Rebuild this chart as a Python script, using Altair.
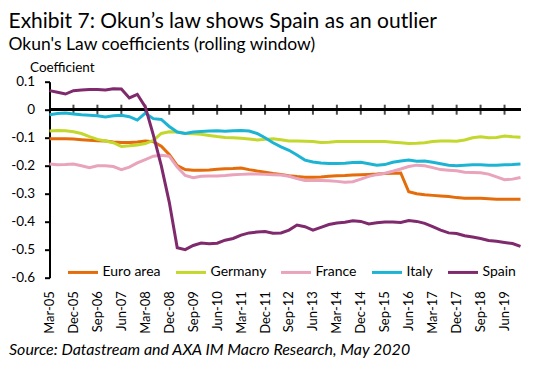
import json
import altair as alt
import pandas as pd

months = ["Mar", "Jun", "Sep", "Dec"]
quarters = [f"{m}-{y:02d}" for y in range(5, 20) for m in months]  # Mar-05 .. Dec-19

series_names = ["Euro area", "Germany", "France", "Italy", "Spain"]
series_colors = ["#E46C0A", "#C3D72C", "#E9A3BA", "#1DB4D4", "#7E2A6C"]

euro_area = [-0.104, -0.104, -0.104, -0.105, -0.107, -0.109, -0.111, -0.112, -0.115, -0.117,
             -0.117, -0.115, -0.112, -0.114, -0.130, -0.160, -0.200, -0.214, -0.216, -0.216,
             -0.215, -0.213, -0.211, -0.210, -0.208, -0.214, -0.219, -0.223, -0.228, -0.231,
             -0.236, -0.239, -0.241, -0.241, -0.240, -0.238, -0.236, -0.235, -0.233, -0.232,
             -0.231, -0.230, -0.228, -0.227, -0.226, -0.293, -0.300, -0.304, -0.306, -0.308,
             -0.310, -0.314, -0.316, -0.316, -0.316, -0.318, -0.320, -0.320, -0.320, -0.320]
germany = [-0.076, -0.074, -0.075, -0.079, -0.085, -0.096, -0.106, -0.112, -0.118, -0.131,
           -0.129, -0.126, -0.121, -0.110, -0.085, -0.079, -0.080, -0.085, -0.086, -0.088,
           -0.092, -0.096, -0.099, -0.100, -0.102, -0.105, -0.108, -0.106, -0.104, -0.107,
           -0.112, -0.112, -0.113, -0.114, -0.117, -0.116, -0.114, -0.114, -0.114, -0.114,
           -0.114, -0.114, -0.114, -0.116, -0.118, -0.121, -0.120, -0.118, -0.114, -0.112,
           -0.112, -0.113, -0.108, -0.100, -0.097, -0.100, -0.099, -0.094, -0.097, -0.098]
france = [-0.194, -0.197, -0.196, -0.194, -0.200, -0.207, -0.200, -0.200, -0.203, -0.214,
          -0.205, -0.190, -0.178, -0.166, -0.163, -0.166, -0.205, -0.235, -0.243, -0.238,
          -0.237, -0.237, -0.235, -0.232, -0.231, -0.230, -0.230, -0.231, -0.232, -0.233,
          -0.238, -0.246, -0.253, -0.253, -0.253, -0.254, -0.256, -0.259, -0.257, -0.248,
          -0.238, -0.232, -0.227, -0.220, -0.212, -0.203, -0.198, -0.200, -0.207, -0.214,
          -0.216, -0.218, -0.223, -0.224, -0.225, -0.230, -0.240, -0.250, -0.248, -0.242]
italy = [-0.018, -0.014, -0.012, -0.015, -0.018, -0.020, -0.022, -0.026, -0.022, -0.020,
         -0.025, -0.037, -0.012, -0.032, -0.035, -0.060, -0.080, -0.085, -0.080, -0.078,
         -0.076, -0.075, -0.077, -0.075, -0.074, -0.076, -0.085, -0.100, -0.118, -0.133,
         -0.145, -0.162, -0.180, -0.187, -0.190, -0.192, -0.192, -0.191, -0.189, -0.188,
         -0.193, -0.198, -0.196, -0.188, -0.183, -0.180, -0.184, -0.183, -0.188, -0.193,
         -0.198, -0.200, -0.198, -0.197, -0.197, -0.198, -0.198, -0.197, -0.196, -0.194]
spain = [0.068, 0.062, 0.056, 0.068, 0.070, 0.072, 0.072, 0.070, 0.075, 0.074,
         0.042, 0.055, 0.010, -0.090, -0.200, -0.330, -0.493, -0.500, -0.485, -0.476,
         -0.479, -0.477, -0.466, -0.460, -0.448, -0.440, -0.437, -0.435, -0.441, -0.440,
         -0.430, -0.412, -0.418, -0.430, -0.420, -0.410, -0.405, -0.402, -0.397, -0.399,
         -0.408, -0.404, -0.401, -0.401, -0.403, -0.396, -0.399, -0.406, -0.418, -0.430,
         -0.440, -0.442, -0.450, -0.455, -0.460, -0.467, -0.470, -0.474, -0.478, -0.488]

y_ticks = [-0.6, -0.5, -0.4, -0.3, -0.2, -0.1, 0.0, 0.1]
x_label_idx = list(range(0, len(quarters), 3))
zero_tick_idx = x_label_idx[1:]

rows = []
for name, vals in zip(series_names, [euro_area, germany, france, italy, spain]):
    for i, v in enumerate(vals):
        rows.append({"idx": i, "quarter": quarters[i], "series": name, "value": v})
df = pd.DataFrame(rows)
ticks_df = pd.DataFrame({"idx": zero_tick_idx})

FONT = "Lato"
label_expr = json.dumps(quarters) + "[datum.value]"

x_scale = alt.Scale(domain=[0, len(quarters) - 1], nice=False, zero=False)
y_scale = alt.Scale(domain=[-0.6, 0.1], nice=False)

x_axis = alt.Axis(values=x_label_idx, labelExpr=label_expr, labelAngle=-90,
                  labelOverlap=False, labelFlush=False, labelBound=False,
                  domain=False, ticks=False, grid=False, labelPadding=13,
                  labelFont=FONT, labelFontSize=13, labelColor="#000000",
                  title="Source: Datastream and AXA IM Macro Research, May 2020",
                  titleFont=FONT, titleFontSize=16, titleFontStyle="italic",
                  titleFontWeight="normal", titleColor="#000000",
                  titleAnchor="start", titleAlign="left", titleBaseline="alphabetic",
                  titleX=-41, titleY=77)
y_axis = alt.Axis(values=y_ticks,
                  labelExpr="datum.value == 0 ? '0' : (datum.value < 0 ? '-' : '') + format(abs(datum.value), '.1f')",
                  labelOverlap=False, labelFlush=False, labelBound=False,
                  grid=False, domainColor="#000000", domainWidth=2,
                  tickColor="#000000", tickWidth=2, tickSize=5, labelPadding=10,
                  labelFont=FONT, labelFontSize=13.5, labelColor="#000000",
                  title="Coefficient", titleAngle=0, titleFont=FONT, titleFontSize=13.5,
                  titleFontWeight="normal", titleColor="#000000",
                  titleAlign="left", titleBaseline="alphabetic",
                  titleX=-20, titleY=-10)

zero_line = alt.Chart(ticks_df).mark_rule(color="#000000", strokeWidth=2).encode(
    y=alt.Y(datum=0, type="quantitative", scale=y_scale, axis=y_axis)
)

zero_ticks = alt.Chart(ticks_df).mark_tick(color="#000000", orient="vertical",
                                           size=10, thickness=2).encode(
    x=alt.X("idx:Q", scale=x_scale, axis=x_axis),
    y=alt.Y(datum=0, type="quantitative", scale=y_scale, axis=y_axis),
)

lines = alt.Chart(df).mark_line(strokeWidth=3).encode(
    x=alt.X("idx:Q", scale=x_scale, axis=x_axis),
    y=alt.Y("value:Q", scale=y_scale, axis=y_axis),
    color=alt.Color("series:N",
                    scale=alt.Scale(domain=series_names, range=series_colors),
                    legend=alt.Legend(orient="none", direction="horizontal",
                                      legendX=17, legendY=174, title=None,
                                      symbolType="stroke", symbolStrokeWidth=3,
                                      symbolSize=900, labelFont=FONT, labelFontSize=14,
                                      labelColor="#000000", labelOffset=3,
                                      columnPadding=8, padding=0)),
)

chart = alt.layer(zero_line, zero_ticks, lines).properties(
    width=471, height=196,
    autosize=alt.AutoSizeParams(type="none"),
    padding={"left": 41.5, "top": 73.7, "right": 10, "bottom": 90},
    title=alt.TitleParams(
        text="Exhibit 7: Okun\u2019s law shows Spain as an outlier",
        subtitle="Okun's Law coefficients (rolling window)",
        anchor="start", frame="group", dx=-41, offset=7,
        font=FONT, fontSize=21, fontWeight="normal", color="#000000",
        subtitleFont=FONT, subtitleFontSize=17.5, subtitleColor="#000000",
        subtitlePadding=4,
    ),
).configure_view(stroke=None).configure_axis(labelOverlap=False)

chart.save("out.html", embed_options={"renderer": "svg", "actions": False})
